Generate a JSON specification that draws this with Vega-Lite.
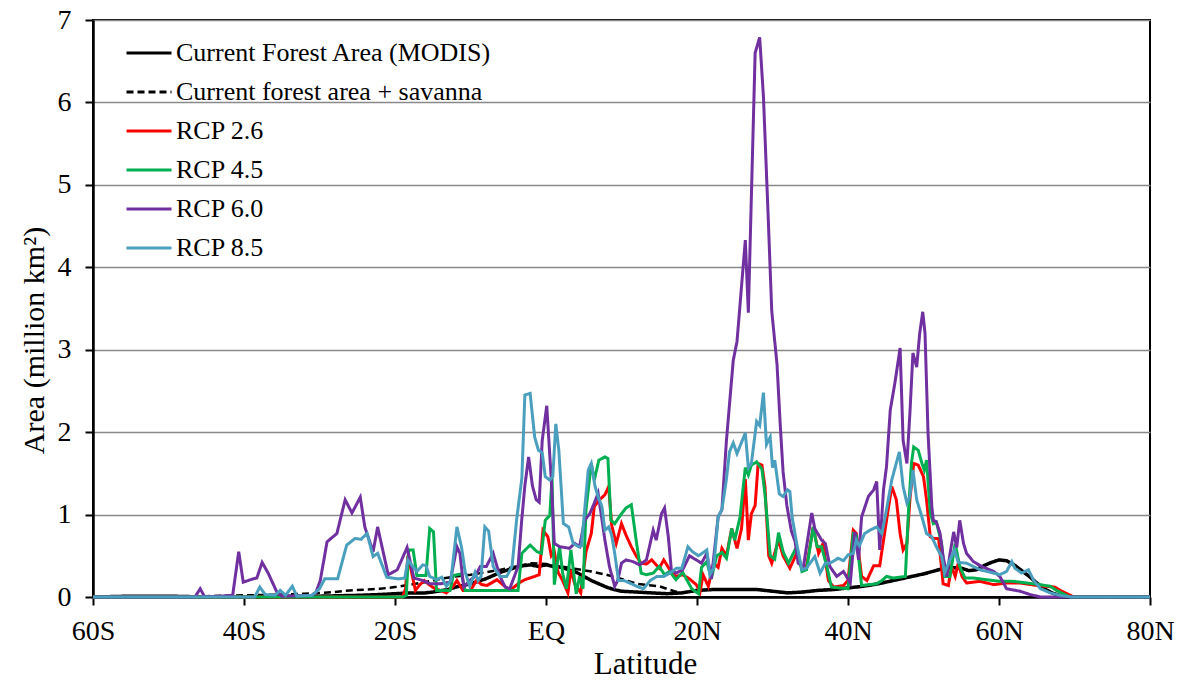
{
  "$schema": "https://vega.github.io/schema/vega-lite/v6.json",
  "width": 1057,
  "height": 577,
  "autosize": "none",
  "padding": {"left": 93, "top": 20, "right": 34, "bottom": 90},
  "background": "white",
  "config": {
    "font": "'Liberation Serif', 'Times New Roman', 'DejaVu Serif', serif",
    "view": {"stroke": "black", "strokeWidth": 2},
    "axis": {"labelFont": "'Liberation Serif', 'Times New Roman', 'DejaVu Serif', serif", "titleFont": "'Liberation Serif', 'Times New Roman', 'DejaVu Serif', serif"},
    "legend": {
      "orient": "none", "legendX": 32, "legendY": 9,
      "symbolType": "stroke", "symbolSize": 2025, "symbolStrokeWidth": 3,
      "labelFont": "'Liberation Serif', 'Times New Roman', 'DejaVu Serif', serif", "labelFontSize": 26, "labelColor": "black", "labelLimit": 0,
      "labelOffset": 3, "rowPadding": 2, "title": null
    }
  },
  "encoding": {
    "x": {"field": "x", "type": "quantitative",
      "scale": {"domain": [-60, 80], "nice": false, "zero": false},
      "axis": {"values": [-60, -40, -20, 0, 20, 40, 60, 80],
        "labelExpr": "datum.value < 0 ? (-datum.value) + 'S' : (datum.value == 0 ? 'EQ' : datum.value + 'N')",
        "title": "Latitude", "titleFontSize": 31, "titleFontWeight": "normal", "titleColor": "black", "titlePadding": 4, "titleX": 552,
        "labelFontSize": 28, "labelColor": "black", "labelPadding": 12, "labelFlush": false,
        "tickColor": "black", "tickSize": 8, "tickWidth": 2, "domainColor": "black", "domainWidth": 2.5, "grid": false}},
    "y": {"field": "y", "type": "quantitative",
      "scale": {"domain": [0, 7], "nice": false},
      "axis": {"values": [0, 1, 2, 3, 4, 5, 6, 7],
        "title": "Area (million km²)", "titleFontSize": 30, "titleFontWeight": "normal", "titleColor": "black", "titlePadding": 8, "titleY": 320,
        "labelFontSize": 28, "labelColor": "black", "labelPadding": 14,
        "tickColor": "black", "tickSize": 8, "tickWidth": 2, "domainColor": "black", "domainWidth": 2.5,
        "grid": true, "gridColor": "#898989", "gridWidth": 1.5}}
  },
  "layer": [
    {
      "data": {"values": [
        {"x":-60,"y":0},{"x":-55,"y":0.01},{"x":-50,"y":0.01},{"x":-45,"y":0},{"x":-40,"y":0},{"x":-35,"y":0.01},{"x":-30,"y":0.01},{"x":-25,"y":0.02},{"x":-22,"y":0.03},{"x":-20,"y":0.04},{"x":-18,"y":0.05},{"x":-16,"y":0.05},{"x":-15,"y":0.06},{"x":-13,"y":0.09},{"x":-12,"y":0.12},{"x":-10,"y":0.16},{"x":-8,"y":0.22},{"x":-6,"y":0.3},{"x":-4,"y":0.36},{"x":-3,"y":0.38},{"x":-2,"y":0.39},{"x":-1,"y":0.37},{"x":0,"y":0.39},{"x":1,"y":0.37},{"x":2,"y":0.36},{"x":3,"y":0.33},{"x":4,"y":0.3},{"x":5,"y":0.25},{"x":6,"y":0.2},{"x":7,"y":0.16},{"x":8,"y":0.12},{"x":9,"y":0.09},{"x":10,"y":0.07},{"x":12,"y":0.06},{"x":14,"y":0.05},{"x":16,"y":0.04},{"x":18,"y":0.05},{"x":20,"y":0.08},{"x":22,"y":0.09},{"x":25,"y":0.09},{"x":28,"y":0.09},{"x":30,"y":0.07},{"x":32,"y":0.05},{"x":34,"y":0.06},{"x":36,"y":0.08},{"x":38,"y":0.09},{"x":40,"y":0.11},{"x":42,"y":0.13},{"x":44,"y":0.16},{"x":46,"y":0.2},{"x":48,"y":0.24},{"x":50,"y":0.28},{"x":52,"y":0.33},{"x":53,"y":0.36},{"x":55,"y":0.35},{"x":56,"y":0.32},{"x":57,"y":0.33},{"x":58,"y":0.38},{"x":59,"y":0.42},{"x":60,"y":0.45},{"x":61,"y":0.44},{"x":62,"y":0.39},{"x":63,"y":0.32},{"x":64,"y":0.25},{"x":65,"y":0.17},{"x":66,"y":0.1},{"x":67,"y":0.05},{"x":68,"y":0.02},{"x":69,"y":0},{"x":80,"y":0}
      ]},
      "mark": {"type": "line", "strokeWidth": 3.5},
      "encoding": {
        "color": {"datum": "Current Forest Area (MODIS)",
          "scale": {"domain": ["Current Forest Area (MODIS)", "Current forest area + savanna", "RCP 2.6", "RCP 4.5", "RCP 6.0", "RCP 8.5"],
            "range": ["#000000", "#000000", "#FF0000", "#00B050", "#7030A0", "#4A9FBE"]}},
        "strokeDash": {"datum": "Current Forest Area (MODIS)",
          "scale": {"domain": ["Current Forest Area (MODIS)", "Current forest area + savanna", "RCP 2.6", "RCP 4.5", "RCP 6.0", "RCP 8.5"],
            "range": [[1, 0], [7, 4], [1, 0], [1, 0], [1, 0], [1, 0]]}}
      }
    },
    {
      "data": {"values": [
        {"x":-60,"y":0},{"x":-47,"y":0},{"x":-45,"y":0.01},{"x":-40,"y":0.02},{"x":-35,"y":0.03},{"x":-32,"y":0.04},{"x":-30,"y":0.05},{"x":-28,"y":0.06},{"x":-26,"y":0.08},{"x":-24,"y":0.09},{"x":-22,"y":0.1},{"x":-20,"y":0.12},{"x":-18,"y":0.15},{"x":-16,"y":0.18},{"x":-14,"y":0.22},{"x":-12,"y":0.25},{"x":-10,"y":0.27},{"x":-8,"y":0.3},{"x":-6,"y":0.33},{"x":-4,"y":0.37},{"x":-2,"y":0.41},{"x":0,"y":0.4},{"x":2,"y":0.37},{"x":4,"y":0.34},{"x":6,"y":0.31},{"x":8,"y":0.27},{"x":10,"y":0.22},{"x":12,"y":0.16},{"x":14,"y":0.14},{"x":15,"y":0.13},{"x":16,"y":0.1},{"x":17,"y":0.07},{"x":18,"y":0.05},{"x":20,"y":0.08},{"x":22,"y":0.09},{"x":25,"y":0.09},{"x":28,"y":0.09},{"x":30,"y":0.07},{"x":32,"y":0.05},{"x":34,"y":0.06},{"x":36,"y":0.08},{"x":38,"y":0.09},{"x":40,"y":0.11},{"x":42,"y":0.13},{"x":44,"y":0.16},{"x":46,"y":0.2},{"x":48,"y":0.24},{"x":50,"y":0.28},{"x":52,"y":0.33},{"x":53,"y":0.36},{"x":55,"y":0.35},{"x":56,"y":0.32},{"x":57,"y":0.33},{"x":58,"y":0.38},{"x":59,"y":0.42},{"x":60,"y":0.45},{"x":61,"y":0.44},{"x":62,"y":0.39},{"x":63,"y":0.32},{"x":64,"y":0.25},{"x":65,"y":0.17},{"x":66,"y":0.1},{"x":67,"y":0.05},{"x":68,"y":0.02},{"x":69,"y":0},{"x":80,"y":0}
      ]},
      "mark": {"type": "line", "strokeWidth": 2.5},
      "encoding": {
        "color": {"datum": "Current forest area + savanna"},
        "strokeDash": {"datum": "Current forest area + savanna"}
      }
    },
    {
      "data": {"values": [
        {"x":-60,"y":0},{"x":-19,"y":0},{"x":-18.6,"y":0.1},{"x":-18.3,"y":0.5},{"x":-17.8,"y":0.3},{"x":-17.3,"y":0.08},{"x":-16.7,"y":0.15},{"x":-16.1,"y":0.2},{"x":-15.5,"y":0.15},{"x":-14.7,"y":0.1},{"x":-14,"y":0.08},{"x":-13.2,"y":0.05},{"x":-12.3,"y":0.13},{"x":-11.8,"y":0.2},{"x":-11,"y":0.08},{"x":-10,"y":0.08},{"x":-9.2,"y":0.2},{"x":-8.5,"y":0.15},{"x":-7.8,"y":0.14},{"x":-6.5,"y":0.21},{"x":-5.6,"y":0.14},{"x":-4.8,"y":0.08},{"x":-3.4,"y":0.18},{"x":-2.8,"y":0.21},{"x":-1.5,"y":0.25},{"x":-0.9,"y":0.27},{"x":-0.4,"y":0.81},{"x":0.25,"y":0.73},{"x":0.7,"y":0.5},{"x":1.1,"y":0.55},{"x":1.6,"y":0.3},{"x":2.2,"y":0.2},{"x":2.9,"y":0.05},{"x":3.3,"y":0.33},{"x":3.8,"y":0.16},{"x":4.6,"y":0.05},{"x":5.3,"y":0.55},{"x":6.0,"y":0.77},{"x":6.4,"y":1.1},{"x":7.1,"y":1.18},{"x":7.8,"y":1.24},{"x":8.3,"y":1.34},{"x":8.7,"y":0.87},{"x":9.3,"y":0.65},{"x":10.0,"y":0.89},{"x":10.6,"y":0.75},{"x":11.3,"y":0.61},{"x":12.0,"y":0.49},{"x":12.6,"y":0.41},{"x":13.3,"y":0.4},{"x":14.0,"y":0.45},{"x":15.0,"y":0.35},{"x":15.6,"y":0.45},{"x":16.4,"y":0.33},{"x":17.2,"y":0.25},{"x":18.1,"y":0.27},{"x":19.0,"y":0.22},{"x":19.9,"y":0.15},{"x":20.4,"y":0.06},{"x":20.8,"y":0.27},{"x":21.5,"y":0.13},{"x":22.2,"y":0.41},{"x":22.8,"y":0.36},{"x":23.3,"y":0.59},{"x":23.9,"y":0.5},{"x":24.6,"y":0.83},{"x":25.3,"y":0.59},{"x":25.9,"y":0.83},{"x":26.4,"y":1.43},{"x":26.8,"y":0.69},{"x":27.2,"y":1.01},{"x":27.7,"y":1.11},{"x":28.1,"y":1.62},{"x":28.6,"y":1.6},{"x":29.0,"y":1.34},{"x":29.5,"y":0.5},{"x":29.9,"y":0.41},{"x":30.8,"y":0.69},{"x":31.4,"y":0.5},{"x":32.3,"y":0.35},{"x":33.2,"y":0.53},{"x":33.9,"y":0.35},{"x":34.5,"y":0.37},{"x":35.4,"y":0.85},{"x":36.1,"y":0.53},{"x":36.7,"y":0.65},{"x":37.4,"y":0.2},{"x":38.1,"y":0.12},{"x":39.4,"y":0.14},{"x":40.0,"y":0.2},{"x":40.7,"y":0.81},{"x":41.1,"y":0.77},{"x":41.8,"y":0.25},{"x":42.5,"y":0.2},{"x":43.4,"y":0.38},{"x":44.2,"y":0.38},{"x":45.1,"y":0.93},{"x":45.8,"y":1.34},{"x":46.4,"y":1.18},{"x":46.9,"y":0.77},{"x":47.3,"y":0.57},{"x":47.8,"y":0.65},{"x":48.2,"y":1.18},{"x":48.7,"y":1.62},{"x":49.3,"y":1.6},{"x":50.0,"y":1.46},{"x":50.4,"y":1.18},{"x":50.9,"y":0.73},{"x":51.3,"y":0.71},{"x":52.0,"y":0.71},{"x":52.6,"y":0.16},{"x":53.3,"y":0.14},{"x":53.7,"y":0.37},{"x":54.2,"y":0.25},{"x":54.6,"y":0.41},{"x":55.1,"y":0.25},{"x":55.7,"y":0.17},{"x":57.5,"y":0.19},{"x":59.3,"y":0.15},{"x":61,"y":0.17},{"x":62.8,"y":0.17},{"x":65,"y":0.14},{"x":67.4,"y":0.12},{"x":68.1,"y":0.08},{"x":69,"y":0.04},{"x":69.9,"y":0},{"x":80,"y":0}
      ]},
      "mark": {"type": "line", "strokeWidth": 3},
      "encoding": {"color": {"datum": "RCP 2.6"}, "strokeDash": {"datum": "RCP 2.6"}}
    },
    {
      "data": {"values": [
        {"x":-60,"y":0},{"x":-19,"y":0},{"x":-18.5,"y":0.02},{"x":-18.2,"y":0.57},{"x":-17.6,"y":0.57},{"x":-17.1,"y":0.26},{"x":-15.9,"y":0.26},{"x":-15.4,"y":0.83},{"x":-14.9,"y":0.79},{"x":-14.5,"y":0.08},{"x":-12.7,"y":0.08},{"x":-12.3,"y":0.26},{"x":-11.2,"y":0.28},{"x":-10.7,"y":0.08},{"x":-7,"y":0.08},{"x":-3.7,"y":0.08},{"x":-3.2,"y":0.53},{"x":-2.1,"y":0.63},{"x":-1.2,"y":0.55},{"x":-0.6,"y":0.53},{"x":-0.1,"y":0.93},{"x":0.5,"y":0.99},{"x":0.8,"y":1.45},{"x":1.1,"y":0.15},{"x":1.8,"y":0.61},{"x":2.2,"y":0.29},{"x":2.7,"y":0.1},{"x":3.3,"y":0.57},{"x":4.0,"y":0.04},{"x":4.45,"y":0.25},{"x":4.9,"y":0.1},{"x":5.3,"y":1.06},{"x":6.0,"y":1.62},{"x":6.4,"y":1.42},{"x":7.0,"y":1.66},{"x":7.8,"y":1.7},{"x":8.2,"y":1.68},{"x":8.6,"y":0.93},{"x":9.1,"y":0.89},{"x":10.0,"y":1.01},{"x":10.6,"y":1.08},{"x":11.3,"y":1.12},{"x":12.0,"y":0.65},{"x":12.6,"y":0.29},{"x":13.3,"y":0.27},{"x":14.2,"y":0.29},{"x":15.0,"y":0.37},{"x":15.7,"y":0.27},{"x":16.4,"y":0.31},{"x":17.2,"y":0.21},{"x":18.1,"y":0.3},{"x":19.3,"y":0.1},{"x":20.2,"y":0.04},{"x":20.6,"y":0.36},{"x":21.3,"y":0.43},{"x":21.9,"y":0.22},{"x":22.6,"y":0.5},{"x":23.3,"y":0.54},{"x":23.9,"y":0.47},{"x":24.6,"y":0.83},{"x":25.0,"y":0.69},{"x":25.7,"y":0.97},{"x":26.4,"y":1.57},{"x":26.8,"y":1.48},{"x":27.2,"y":1.6},{"x":27.9,"y":1.64},{"x":28.6,"y":1.55},{"x":29.0,"y":1.25},{"x":29.7,"y":0.5},{"x":30.3,"y":0.46},{"x":30.8,"y":0.78},{"x":31.4,"y":0.55},{"x":32.1,"y":0.41},{"x":32.6,"y":0.5},{"x":33.2,"y":0.61},{"x":33.9,"y":0.31},{"x":34.5,"y":0.33},{"x":35.4,"y":0.85},{"x":35.9,"y":0.61},{"x":36.5,"y":0.61},{"x":37.2,"y":0.37},{"x":37.8,"y":0.12},{"x":40.0,"y":0.1},{"x":40.7,"y":0.77},{"x":41.1,"y":0.75},{"x":41.8,"y":0.14},{"x":43.8,"y":0.16},{"x":44.5,"y":0.2},{"x":45.1,"y":0.25},{"x":46.0,"y":0.23},{"x":47.6,"y":0.25},{"x":48.0,"y":1.02},{"x":48.4,"y":1.62},{"x":48.7,"y":1.82},{"x":49.3,"y":1.78},{"x":49.8,"y":1.62},{"x":50.1,"y":1.54},{"x":50.4,"y":1.66},{"x":50.9,"y":1.02},{"x":51.3,"y":0.89},{"x":51.7,"y":0.91},{"x":52.4,"y":0.65},{"x":52.8,"y":0.25},{"x":53.5,"y":0.25},{"x":54.2,"y":0.65},{"x":54.8,"y":0.37},{"x":55.5,"y":0.23},{"x":56.6,"y":0.23},{"x":58.4,"y":0.21},{"x":60.1,"y":0.19},{"x":61.9,"y":0.19},{"x":63.7,"y":0.17},{"x":65.4,"y":0.15},{"x":66.8,"y":0.13},{"x":67.6,"y":0.08},{"x":68.5,"y":0.04},{"x":69.4,"y":0},{"x":80,"y":0}
      ]},
      "mark": {"type": "line", "strokeWidth": 3},
      "encoding": {"color": {"datum": "RCP 4.5"}, "strokeDash": {"datum": "RCP 4.5"}}
    },
    {
      "data": {"values": [
        {"x":-60,"y":0},{"x":-46.5,"y":0},{"x":-45.8,"y":0.1},{"x":-45.2,"y":0},{"x":-41.5,"y":0.02},{"x":-40.7,"y":0.55},{"x":-40.1,"y":0.18},{"x":-38.8,"y":0.22},{"x":-38.3,"y":0.23},{"x":-37.6,"y":0.42},{"x":-36.8,"y":0.29},{"x":-35.6,"y":0.05},{"x":-35,"y":0.01},{"x":-31,"y":0.02},{"x":-30.5,"y":0.05},{"x":-29.9,"y":0.2},{"x":-29,"y":0.67},{"x":-27.7,"y":0.77},{"x":-26.6,"y":1.18},{"x":-25.7,"y":1.02},{"x":-24.6,"y":1.21},{"x":-24,"y":0.85},{"x":-22.9,"y":0.55},{"x":-22.3,"y":0.85},{"x":-20.9,"y":0.27},{"x":-19.7,"y":0.33},{"x":-18.4,"y":0.6},{"x":-17.5,"y":0.23},{"x":-16.3,"y":0.2},{"x":-15.4,"y":0.16},{"x":-14,"y":0.16},{"x":-12.7,"y":0.18},{"x":-11.8,"y":0.61},{"x":-11.4,"y":0.53},{"x":-10.9,"y":0.12},{"x":-10.1,"y":0.2},{"x":-9.4,"y":0.25},{"x":-8.7,"y":0.37},{"x":-7.9,"y":0.37},{"x":-7.0,"y":0.53},{"x":-6.1,"y":0.25},{"x":-5.4,"y":0.12},{"x":-4.8,"y":0.1},{"x":-3.7,"y":0.37},{"x":-3.2,"y":0.95},{"x":-2.8,"y":1.35},{"x":-2.3,"y":1.7},{"x":-1.8,"y":1.35},{"x":-1.3,"y":1.18},{"x":-0.9,"y":1.15},{"x":-0.5,"y":1.9},{"x":0.1,"y":2.32},{"x":0.7,"y":1.42},{"x":1.1,"y":0.65},{"x":1.8,"y":0.61},{"x":2.5,"y":0.6},{"x":3.1,"y":0.59},{"x":3.8,"y":0.65},{"x":4.45,"y":0.61},{"x":5.1,"y":0.93},{"x":5.8,"y":1.01},{"x":6.4,"y":1.14},{"x":6.9,"y":1.26},{"x":7.3,"y":1.01},{"x":7.8,"y":0.69},{"x":8.4,"y":0.37},{"x":9.1,"y":0.13},{"x":9.5,"y":0.2},{"x":10.0,"y":0.41},{"x":10.6,"y":0.45},{"x":11.5,"y":0.43},{"x":12.4,"y":0.39},{"x":13.3,"y":0.45},{"x":14.2,"y":0.81},{"x":14.6,"y":0.69},{"x":15.3,"y":1.01},{"x":15.7,"y":1.08},{"x":16.2,"y":0.73},{"x":16.6,"y":0.33},{"x":17.2,"y":0.29},{"x":18.1,"y":0.33},{"x":19.0,"y":0.5},{"x":19.9,"y":0.45},{"x":20.6,"y":0.41},{"x":21.3,"y":0.53},{"x":21.9,"y":0.22},{"x":22.8,"y":0.97},{"x":23.3,"y":1.06},{"x":23.9,"y":1.9},{"x":24.8,"y":2.87},{"x":25.3,"y":3.1},{"x":26.4,"y":4.33},{"x":26.8,"y":3.45},{"x":27.7,"y":6.6},{"x":28.3,"y":6.79},{"x":28.8,"y":6.07},{"x":29.4,"y":4.68},{"x":29.9,"y":3.47},{"x":30.6,"y":2.82},{"x":31.0,"y":2.13},{"x":31.4,"y":1.52},{"x":31.9,"y":1.11},{"x":32.5,"y":0.8},{"x":33.0,"y":0.67},{"x":33.4,"y":0.41},{"x":34.1,"y":0.37},{"x":35.2,"y":1.02},{"x":35.6,"y":0.83},{"x":36.5,"y":0.69},{"x":37.0,"y":0.65},{"x":37.6,"y":0.37},{"x":38.5,"y":0.25},{"x":39.4,"y":0.31},{"x":40.3,"y":0.17},{"x":40.9,"y":0.79},{"x":41.4,"y":0.45},{"x":41.8,"y":0.97},{"x":42.7,"y":1.22},{"x":43.4,"y":1.3},{"x":43.8,"y":1.4},{"x":44.2,"y":0.57},{"x":44.7,"y":1.3},{"x":45.1,"y":1.58},{"x":45.6,"y":2.27},{"x":46.2,"y":2.59},{"x":46.9,"y":3.02},{"x":47.3,"y":1.9},{"x":47.8,"y":1.62},{"x":48.2,"y":2.23},{"x":48.6,"y":2.96},{"x":49.1,"y":2.79},{"x":49.5,"y":3.2},{"x":49.9,"y":3.46},{"x":50.2,"y":3.2},{"x":50.6,"y":1.99},{"x":51.1,"y":1.1},{"x":51.3,"y":0.93},{"x":51.7,"y":0.91},{"x":52.2,"y":0.77},{"x":52.6,"y":0.49},{"x":53.1,"y":0.25},{"x":53.5,"y":0.52},{"x":54.0,"y":0.79},{"x":54.4,"y":0.6},{"x":54.8,"y":0.93},{"x":55.3,"y":0.65},{"x":55.7,"y":0.53},{"x":56.6,"y":0.43},{"x":57.7,"y":0.37},{"x":59.3,"y":0.31},{"x":60.1,"y":0.25},{"x":60.6,"y":0.17},{"x":61.0,"y":0.1},{"x":62.8,"y":0.07},{"x":64.1,"y":0.03},{"x":65.5,"y":0},{"x":80,"y":0}
      ]},
      "mark": {"type": "line", "strokeWidth": 3},
      "encoding": {"color": {"datum": "RCP 6.0"}, "strokeDash": {"datum": "RCP 6.0"}}
    },
    {
      "data": {"values": [
        {"x":-60,"y":0},{"x":-38.6,"y":0},{"x":-37.9,"y":0.12},{"x":-37.2,"y":0.03},{"x":-35.9,"y":0.02},{"x":-35.2,"y":0.08},{"x":-34.5,"y":0.02},{"x":-33.6,"y":0.13},{"x":-33,"y":0.01},{"x":-31,"y":0.02},{"x":-30,"y":0.1},{"x":-29.3,"y":0.22},{"x":-27.6,"y":0.22},{"x":-26.4,"y":0.63},{"x":-25.3,"y":0.71},{"x":-24.5,"y":0.7},{"x":-23.7,"y":0.77},{"x":-22.9,"y":0.49},{"x":-22.3,"y":0.53},{"x":-21.1,"y":0.24},{"x":-19.6,"y":0.22},{"x":-18.7,"y":0.23},{"x":-18.3,"y":0.45},{"x":-17.1,"y":0.31},{"x":-16.3,"y":0.39},{"x":-15.9,"y":0.38},{"x":-15.4,"y":0.25},{"x":-14.5,"y":0.21},{"x":-13.8,"y":0.24},{"x":-13.2,"y":0.13},{"x":-12.6,"y":0.2},{"x":-11.8,"y":0.85},{"x":-11.2,"y":0.61},{"x":-10.7,"y":0.3},{"x":-10.1,"y":0.13},{"x":-9.4,"y":0.3},{"x":-9.0,"y":0.2},{"x":-8.6,"y":0.25},{"x":-8.1,"y":0.85},{"x":-7.6,"y":0.8},{"x":-7.0,"y":0.37},{"x":-6.1,"y":0.25},{"x":-5.2,"y":0.25},{"x":-4.5,"y":0.37},{"x":-3.9,"y":0.93},{"x":-3.2,"y":1.44},{"x":-2.8,"y":2.45},{"x":-2.1,"y":2.47},{"x":-1.5,"y":1.94},{"x":-1.0,"y":1.78},{"x":-0.5,"y":1.75},{"x":-0.1,"y":1.46},{"x":0.5,"y":1.42},{"x":0.9,"y":1.46},{"x":1.3,"y":2.1},{"x":1.7,"y":1.78},{"x":2.0,"y":1.34},{"x":2.3,"y":0.89},{"x":3.0,"y":0.85},{"x":3.6,"y":0.65},{"x":4.3,"y":0.61},{"x":4.7,"y":0.62},{"x":5.2,"y":1.14},{"x":5.6,"y":1.54},{"x":6.0,"y":1.62},{"x":6.5,"y":1.34},{"x":6.9,"y":1.22},{"x":7.4,"y":1.1},{"x":7.8,"y":0.81},{"x":8.3,"y":0.85},{"x":8.7,"y":0.75},{"x":9.1,"y":0.53},{"x":9.6,"y":0.2},{"x":10.3,"y":0.2},{"x":11.1,"y":0.17},{"x":12.0,"y":0.13},{"x":12.9,"y":0.1},{"x":13.8,"y":0.2},{"x":14.7,"y":0.25},{"x":15.6,"y":0.25},{"x":16.4,"y":0.29},{"x":17.3,"y":0.35},{"x":18.0,"y":0.35},{"x":18.8,"y":0.61},{"x":19.4,"y":0.55},{"x":20.2,"y":0.5},{"x":21.3,"y":0.57},{"x":21.7,"y":0.27},{"x":22.2,"y":0.35},{"x":22.8,"y":0.97},{"x":23.3,"y":1.06},{"x":23.9,"y":1.43},{"x":24.3,"y":1.76},{"x":24.8,"y":1.87},{"x":25.3,"y":1.74},{"x":26.4,"y":1.99},{"x":26.8,"y":1.57},{"x":27.2,"y":1.62},{"x":27.9,"y":2.13},{"x":28.3,"y":2.08},{"x":28.8,"y":2.48},{"x":29.2,"y":1.85},{"x":29.7,"y":1.94},{"x":30.0,"y":1.57},{"x":30.3,"y":1.66},{"x":30.9,"y":1.25},{"x":31.4,"y":1.22},{"x":32.0,"y":1.3},{"x":32.3,"y":1.28},{"x":32.6,"y":0.97},{"x":33.2,"y":0.65},{"x":33.9,"y":0.33},{"x":34.5,"y":0.35},{"x":35.6,"y":0.49},{"x":36.3,"y":0.29},{"x":37.0,"y":0.41},{"x":37.6,"y":0.41},{"x":38.7,"y":0.47},{"x":39.4,"y":0.44},{"x":40.0,"y":0.51},{"x":40.7,"y":0.53},{"x":41.1,"y":0.69},{"x":41.5,"y":0.62},{"x":42.2,"y":0.77},{"x":42.9,"y":0.81},{"x":43.8,"y":0.85},{"x":44.5,"y":0.77},{"x":45.1,"y":1.06},{"x":45.8,"y":1.42},{"x":46.5,"y":1.66},{"x":46.8,"y":1.76},{"x":47.3,"y":1.34},{"x":47.8,"y":1.14},{"x":48.2,"y":1.22},{"x":48.6,"y":1.54},{"x":49.1,"y":1.18},{"x":49.7,"y":1.0},{"x":50.4,"y":0.77},{"x":51.1,"y":0.73},{"x":51.7,"y":0.61},{"x":52.4,"y":0.49},{"x":52.8,"y":0.29},{"x":53.5,"y":0.45},{"x":54.1,"y":0.57},{"x":54.6,"y":0.42},{"x":55.7,"y":0.41},{"x":56.6,"y":0.37},{"x":57.5,"y":0.33},{"x":58.4,"y":0.31},{"x":59.3,"y":0.29},{"x":60.1,"y":0.27},{"x":61.0,"y":0.31},{"x":61.7,"y":0.43},{"x":62.1,"y":0.35},{"x":63.0,"y":0.29},{"x":63.9,"y":0.33},{"x":64.6,"y":0.2},{"x":65.5,"y":0.1},{"x":66.8,"y":0.05},{"x":68.1,"y":0.02},{"x":69.5,"y":0},{"x":80,"y":0}
      ]},
      "mark": {"type": "line", "strokeWidth": 3},
      "encoding": {"color": {"datum": "RCP 8.5"}, "strokeDash": {"datum": "RCP 8.5"}}
    }
  ]
}
